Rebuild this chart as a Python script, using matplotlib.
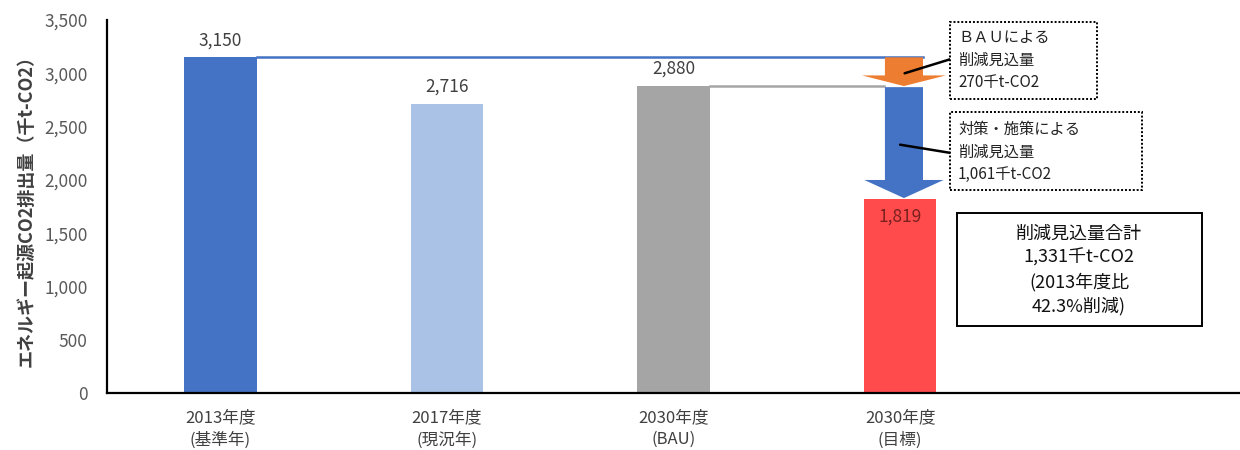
import matplotlib
matplotlib.use("Agg")
import matplotlib.pyplot as plt
from matplotlib.patches import Rectangle, FancyArrow

plt.rcParams['font.family'] = ['Noto Sans CJK JP', 'DejaVu Sans']

categories = ["2013年度\n(基準年)", "2017年度\n(現況年)", "2030年度\n(BAU)", "2030年度\n(目標)"]
values = [3150, 2716, 2880, 1819]
bar_colors = ["#4472C4", "#A9C2E6", "#A5A5A5", "#FF4B4B"]
bau_reduction = 270
measure_reduction = 1061
total_reduction = 1331
y_ticks = [0, 500, 1000, 1500, 2000, 2500, 3000, 3500]
y_label = "エネルギー起源CO2排出量（千t-CO2）"

W, H = 1240, 450
fig = plt.figure(figsize=(W / 100, H / 100), dpi=100)
ax = fig.add_axes([107 / W, 1 - 393 / H, 1 - 107 / W, (393 - 20) / H])

x = list(range(len(values)))
bw = 0.32
ax.bar(x, values, width=bw, color=bar_colors, zorder=2)
ax.set_xlim(-0.5, 4.5)
ax.set_ylim(0, 3500)
ax.set_yticks(y_ticks)
ax.set_yticklabels([f"{v:,}" for v in y_ticks], color="#595959", fontsize=12.5)
ax.set_xticks(x)
ax.set_xticklabels(categories, color="#404040", fontsize=12, linespacing=1.35)
ax.tick_params(axis='y', length=0, pad=14)
ax.tick_params(axis='x', length=0, pad=12)
for s in ["top", "right"]:
    ax.spines[s].set_visible(False)
for s in ["left", "bottom"]:
    ax.spines[s].set_color("black")
    ax.spines[s].set_linewidth(1.6)
ax.set_ylabel(y_label, fontsize=13, color="#404040", fontweight="bold", labelpad=6)

# value labels
for i in range(3):
    ax.text(x[i], values[i] + 75, f"{values[i]:,}", ha="center", va="bottom",
            fontsize=12.5, color="#404040", zorder=3)
ax.text(x[3], values[3] - 80, f"{values[3]:,}", ha="center", va="top",
        fontsize=12.5, color="#7a2020", zorder=3)

# reference lines
ax.plot([x[0] + bw / 2, x[3] + 0.1], [values[0], values[0]], color="#4472C4", lw=1.8, zorder=1)
ax.plot([x[2] + bw / 2, x[3] - 0.07], [values[2], values[2]], color="#A5A5A5", lw=1.8, zorder=1)

# arrows
bau_top = values[0]
bau_end = values[0] - bau_reduction
ax.add_patch(FancyArrow(x[3] + 0.017, bau_top, 0, -bau_reduction, width=0.168,
                        head_width=0.37, head_length=100, length_includes_head=True,
                        color="#ED7D31", zorder=4, lw=0))
ax.add_patch(FancyArrow(x[3] + 0.017, bau_end - 10, 0, -(measure_reduction - 20), width=0.168,
                        head_width=0.35, head_length=170, length_includes_head=True,
                        color="#4472C4", zorder=4, lw=0))

# callout boxes (figure pixels)
def fx(px):
    return px / W

def fy(py):
    return 1 - py / H

def box(x0, y0, x1, y1, ls):
    r = Rectangle((fx(x0), fy(y1)), fx(x1) - fx(x0), fy(y0) - fy(y1), transform=fig.transFigure,
                  fill=True, facecolor="white", edgecolor="black", lw=1.4, linestyle=ls, zorder=5)
    fig.add_artist(r)

box(950, 22, 1097, 99, (0, (1, 1)))
box(950, 112, 1142, 190, (0, (1, 1)))
box(957, 213, 1202, 326, "-")

fig.text(fx(958), fy(60), "ＢＡＵによる\n削減見込量\n" + f"{bau_reduction}千t-CO2", ha="left", va="center",
         fontsize=11, color="#222222", linespacing=1.45, zorder=6)
fig.text(fx(958), fy(152), "対策・施策による\n削減見込量\n" + f"{measure_reduction:,}千t-CO2", ha="left", va="center",
         fontsize=11, color="#222222", linespacing=1.45, zorder=6)
pct = total_reduction / values[0] * 100
fig.text(fx(1079), fy(270), "削減見込量合計\n" + f"{total_reduction:,}千t-CO2\n(2013年度比\n{pct:.1f}%削減)",
         ha="center", va="center", fontsize=13, color="#111111", linespacing=1.4, zorder=6)

# leader lines
ax.annotate("", xy=(3.02, bau_top - 150), xycoords="data",
            xytext=(fx(951), fy(59)), textcoords="figure fraction",
            arrowprops=dict(arrowstyle="-", lw=1.8, color="black", shrinkA=0, shrinkB=0), zorder=6)
ax.annotate("", xy=(3.0, bau_end - 550), xycoords="data",
            xytext=(fx(951), fy(153)), textcoords="figure fraction",
            arrowprops=dict(arrowstyle="-", lw=1.8, color="black", shrinkA=0, shrinkB=0), zorder=6)

fig.savefig("out.png", dpi=100)
